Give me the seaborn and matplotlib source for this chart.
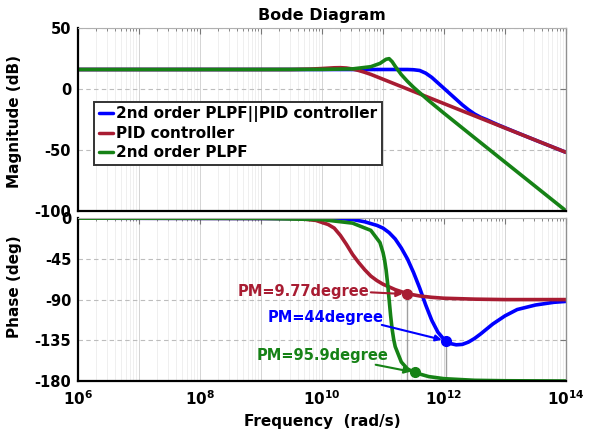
import numpy as np
import pandas as pd
import matplotlib
matplotlib.use("Agg")
import matplotlib.pyplot as plt
from matplotlib.ticker import LogLocator, NullFormatter, FixedLocator
import seaborn as sns

# ---------------- data ----------------
series_names = ["2nd order PLPF||PID controller", "PID controller", "2nd order PLPF"]

# Magnitude (dB) vs log10(frequency)
mag_logf_blue = [6, 10, 11.4, 11.5, 11.6, 11.7, 11.8, 11.9, 12.0, 12.1, 12.2, 12.3,
                 12.4, 12.5, 12.6, 12.7, 12.8, 12.9, 13.0, 13.2, 13.5, 14.0]
mag_db_blue = [16, 16, 16, 15.8, 15.2, 13, 9.5, 5, 0.5, -4, -8.5, -13,
               -17, -20.5, -23.2, -25.2, -27.5, -29.7, -31.8, -35.9, -42, -52]

mag_logf_red = [6, 9.5, 9.8, 10.0, 10.2, 10.3, 10.4, 10.5, 10.6, 10.7, 10.8, 10.9,
                11.0, 11.2, 11.4, 11.6, 12.0, 12.5, 13.0, 13.5, 14.0]
mag_db_red = [16, 16, 16.3, 16.8, 17.4, 17.5, 17.2, 16.4, 15.2, 13.7, 12, 10,
              8, 4, 0, -4, -12, -22, -32, -42, -52]

mag_logf_green = [6, 9, 10, 10.5, 10.8, 10.95, 11.05, 11.1, 11.15, 11.2, 11.3, 11.4,
                  11.5, 11.75, 12, 12.5, 13, 13.5, 14]
mag_db_green = [16, 16, 16.1, 16.5, 18.3, 21, 24.4, 24.9, 22.4, 18.6, 11.8, 6.3,
                1.4, -9.6, -19.9, -40, -60, -80, -100]

# Phase (deg) vs log10(frequency)
ph_logf_blue = [6, 10.3, 10.5, 10.7, 10.9, 11.0, 11.1, 11.2, 11.3, 11.4, 11.5, 11.6,
                11.7, 11.8, 11.9, 12.0, 12.1, 12.2, 12.3, 12.4, 12.5, 12.6, 12.8,
                13.0, 13.2, 13.5, 13.8, 14.0]
ph_deg_blue = [0, -0.5, -1.5, -4, -8, -11, -16, -23, -33, -45, -60, -77,
               -96, -113, -126, -134, -138.5, -140, -139.5, -137, -133, -128, -117,
               -108, -101, -96, -93, -92]

ph_logf_red = [6, 9.5, 9.7, 9.9, 10.1, 10.2, 10.3, 10.4, 10.5, 10.6, 10.7, 10.8,
               10.9, 11.0, 11.2, 11.4, 11.6, 11.8, 12.0, 12.5, 13.0, 14.0]
ph_deg_red = [0, -0.3, -1, -2.5, -7, -11, -19, -29, -40, -49, -57, -64,
              -69, -73, -79, -83.5, -86, -87.5, -88.5, -89.5, -90, -90]

ph_logf_green = [6, 9, 10, 10.5, 10.8, 10.95, 11.0, 11.025, 11.05, 11.075, 11.1,
                 11.125, 11.15, 11.175, 11.2, 11.3, 11.4, 11.5, 11.75, 12, 12.5, 13, 14]
ph_deg_green = [0, -0.2, -1.6, -5.5, -13.5, -27, -38, -46, -57, -72, -90,
                -108, -123, -134, -142, -159, -166.5, -170.3, -175.1, -177.4, -179.2, -179.7, -180]

# Phase-margin markers (red, blue, green)
pm_logf = [11.39, 12.03, 11.52]
pm_deg = [-84, -135.5, -170.5]
pm_labels = ["PM=9.77degree", "PM=44degree", "PM=95.9degree"]

x_tick_exps = [6, 7, 8, 9, 10, 11, 12, 13, 14]
mag_ticks = [50, 0, -50, -100]
ph_ticks = [0, -45, -90, -135, -180]

# ---------------- style ----------------
colors = ["#0000ff", "#a81c32", "#168216"]

sns.set_theme(style="white")
plt.rcParams.update({
    "font.family": ["DejaVu Sans"],
    "font.weight": "bold",
    "axes.labelweight": "bold",
    "axes.titleweight": "bold",
    "text.color": "black",
    "axes.labelcolor": "black",
    "xtick.color": "black",
    "ytick.color": "black",
})

fig = plt.figure(figsize=(5.92, 4.32), dpi=100)
ax1 = fig.add_axes([0.132, 0.512, 0.824, 0.423])
ax2 = fig.add_axes([0.132, 0.118, 0.824, 0.377])

mag_sets = [(mag_logf_blue, mag_db_blue), (mag_logf_red, mag_db_red), (mag_logf_green, mag_db_green)]
ph_sets = [(ph_logf_blue, ph_deg_blue), (ph_logf_red, ph_deg_red), (ph_logf_green, ph_deg_green)]

for (lf, v), name, c in zip(mag_sets, series_names, colors):
    df = pd.DataFrame({"freq": 10.0 ** np.array(lf), "val": v})
    sns.lineplot(data=df, x="freq", y="val", ax=ax1, color=c, lw=2.6,
                 label=name, estimator=None, sort=False)

for (lf, v), name, c in zip(ph_sets, series_names, colors):
    df = pd.DataFrame({"freq": 10.0 ** np.array(lf), "val": v})
    sns.lineplot(data=df, x="freq", y="val", ax=ax2, color=c, lw=2.6,
                 estimator=None, sort=False, legend=False)

# vertical margin guide lines (red & blue markers)
pm_freq = 10.0 ** np.array(pm_logf)
ax2.vlines(pm_freq[:2], ymin=-180, ymax=pm_deg[:2], colors="#a0a0a0", lw=1.0, zorder=1)

# markers
marker_cols = [colors[1], colors[0], colors[2]]
for f, d, c in zip(pm_freq, pm_deg, marker_cols):
    ax2.plot([f], [d], "o", color=c, ms=7, zorder=5)

# annotations (text + arrow)
text_pos = [(10 ** 8.62, -81.5), (10 ** 9.10, -110), (10 ** 8.92, -152)]
arrow_start = [(10 ** 10.80, -82), (10 ** 10.98, -118), (10 ** 10.88, -162)]
for lab, tp, st, f, d, c in zip(pm_labels, text_pos, arrow_start, pm_freq, pm_deg, marker_cols):
    ax2.text(tp[0], tp[1], lab, color=c, fontsize=10.5, fontweight="bold",
             ha="left", va="center", zorder=6)
    ax2.annotate("", xy=(f, d), xytext=st,
                 arrowprops=dict(arrowstyle="-|>", color=c, lw=1.5,
                                 mutation_scale=9, shrinkA=0, shrinkB=3), zorder=6)

# axes formatting
for ax in (ax1, ax2):
    ax.set_xscale("log")
    ax.set_xlim(1e6, 1e14)
    ax.xaxis.set_major_locator(FixedLocator([10.0 ** k for k in x_tick_exps]))
    ax.xaxis.set_minor_locator(LogLocator(base=10, subs=np.arange(2, 10), numticks=100))
    ax.xaxis.set_minor_formatter(NullFormatter())
    ax.grid(True, which="major", axis="x", color="#d4d4d4", lw=0.7, ls="-")
    ax.grid(True, which="minor", axis="x", color="#ececec", lw=0.6, ls="-")
    ax.grid(True, which="major", axis="y", color="#bdbdbd", lw=0.8, ls=(0, (4, 3)))
    ax.tick_params(which="both", direction="in", top=True, right=True, colors="#777777",
                   labelcolor="black")
    ax.tick_params(which="major", length=4, width=0.8)
    ax.tick_params(which="minor", length=2.5, width=0.6)
    ax.tick_params(axis="y", labelsize=10.5, pad=5)
    ax.tick_params(axis="x", labelsize=11, pad=6)
    for s in ("left", "bottom"):
        ax.spines[s].set_color("black")
        ax.spines[s].set_linewidth(1.6)
    ax.spines["top"].set_color("#b0b0b0")
    ax.spines["top"].set_linewidth(0.8)
    ax.spines["right"].set_color("#909090")
    ax.spines["right"].set_linewidth(1.0)
    ax.set_axisbelow(True)

ax1.set_ylim(-100, 50)
ax1.set_yticks(mag_ticks)
ax1.set_yticklabels([str(t) for t in mag_ticks], fontweight="bold")
ax1.set_xticklabels([])
ax1.set_xlabel("")
ax1.set_ylabel("Magnitude (dB)", fontsize=11, fontweight="bold", color="black")
ax1.yaxis.set_label_coords(-0.115, 0.49)
ax1.set_title("Bode Diagram", fontsize=11.5, fontweight="bold", pad=6, color="black")

ax2.set_ylim(-180, 0)
ax2.set_yticks(ph_ticks)
ax2.set_yticklabels([str(t) for t in ph_ticks], fontweight="bold")
ax2.set_xticklabels([r"$\mathbf{10^{%d}}$" % k if k % 2 == 0 else "" for k in x_tick_exps])
ax2.set_xlabel("Frequency  (rad/s)", fontsize=11, fontweight="bold", labelpad=4, color="black")
ax2.set_ylabel("Phase (deg)", fontsize=11, fontweight="bold", color="black")
ax2.yaxis.set_label_coords(-0.115, 0.58)

leg = ax1.legend(loc="upper left", bbox_to_anchor=(0.033, 0.596), borderaxespad=0,
                 frameon=True, fancybox=False, framealpha=1, edgecolor="#333333",
                 handlelength=0.9, handletextpad=0.25, labelspacing=0.25, borderpad=0.3,
                 prop={"size": 11, "weight": "bold"})
leg.get_frame().set_linewidth(1.4)
for h in leg.get_lines():
    h.set_linewidth(2.5)
for t in leg.get_texts():
    t.set_color("black")

fig.savefig("out.png", dpi=100)
